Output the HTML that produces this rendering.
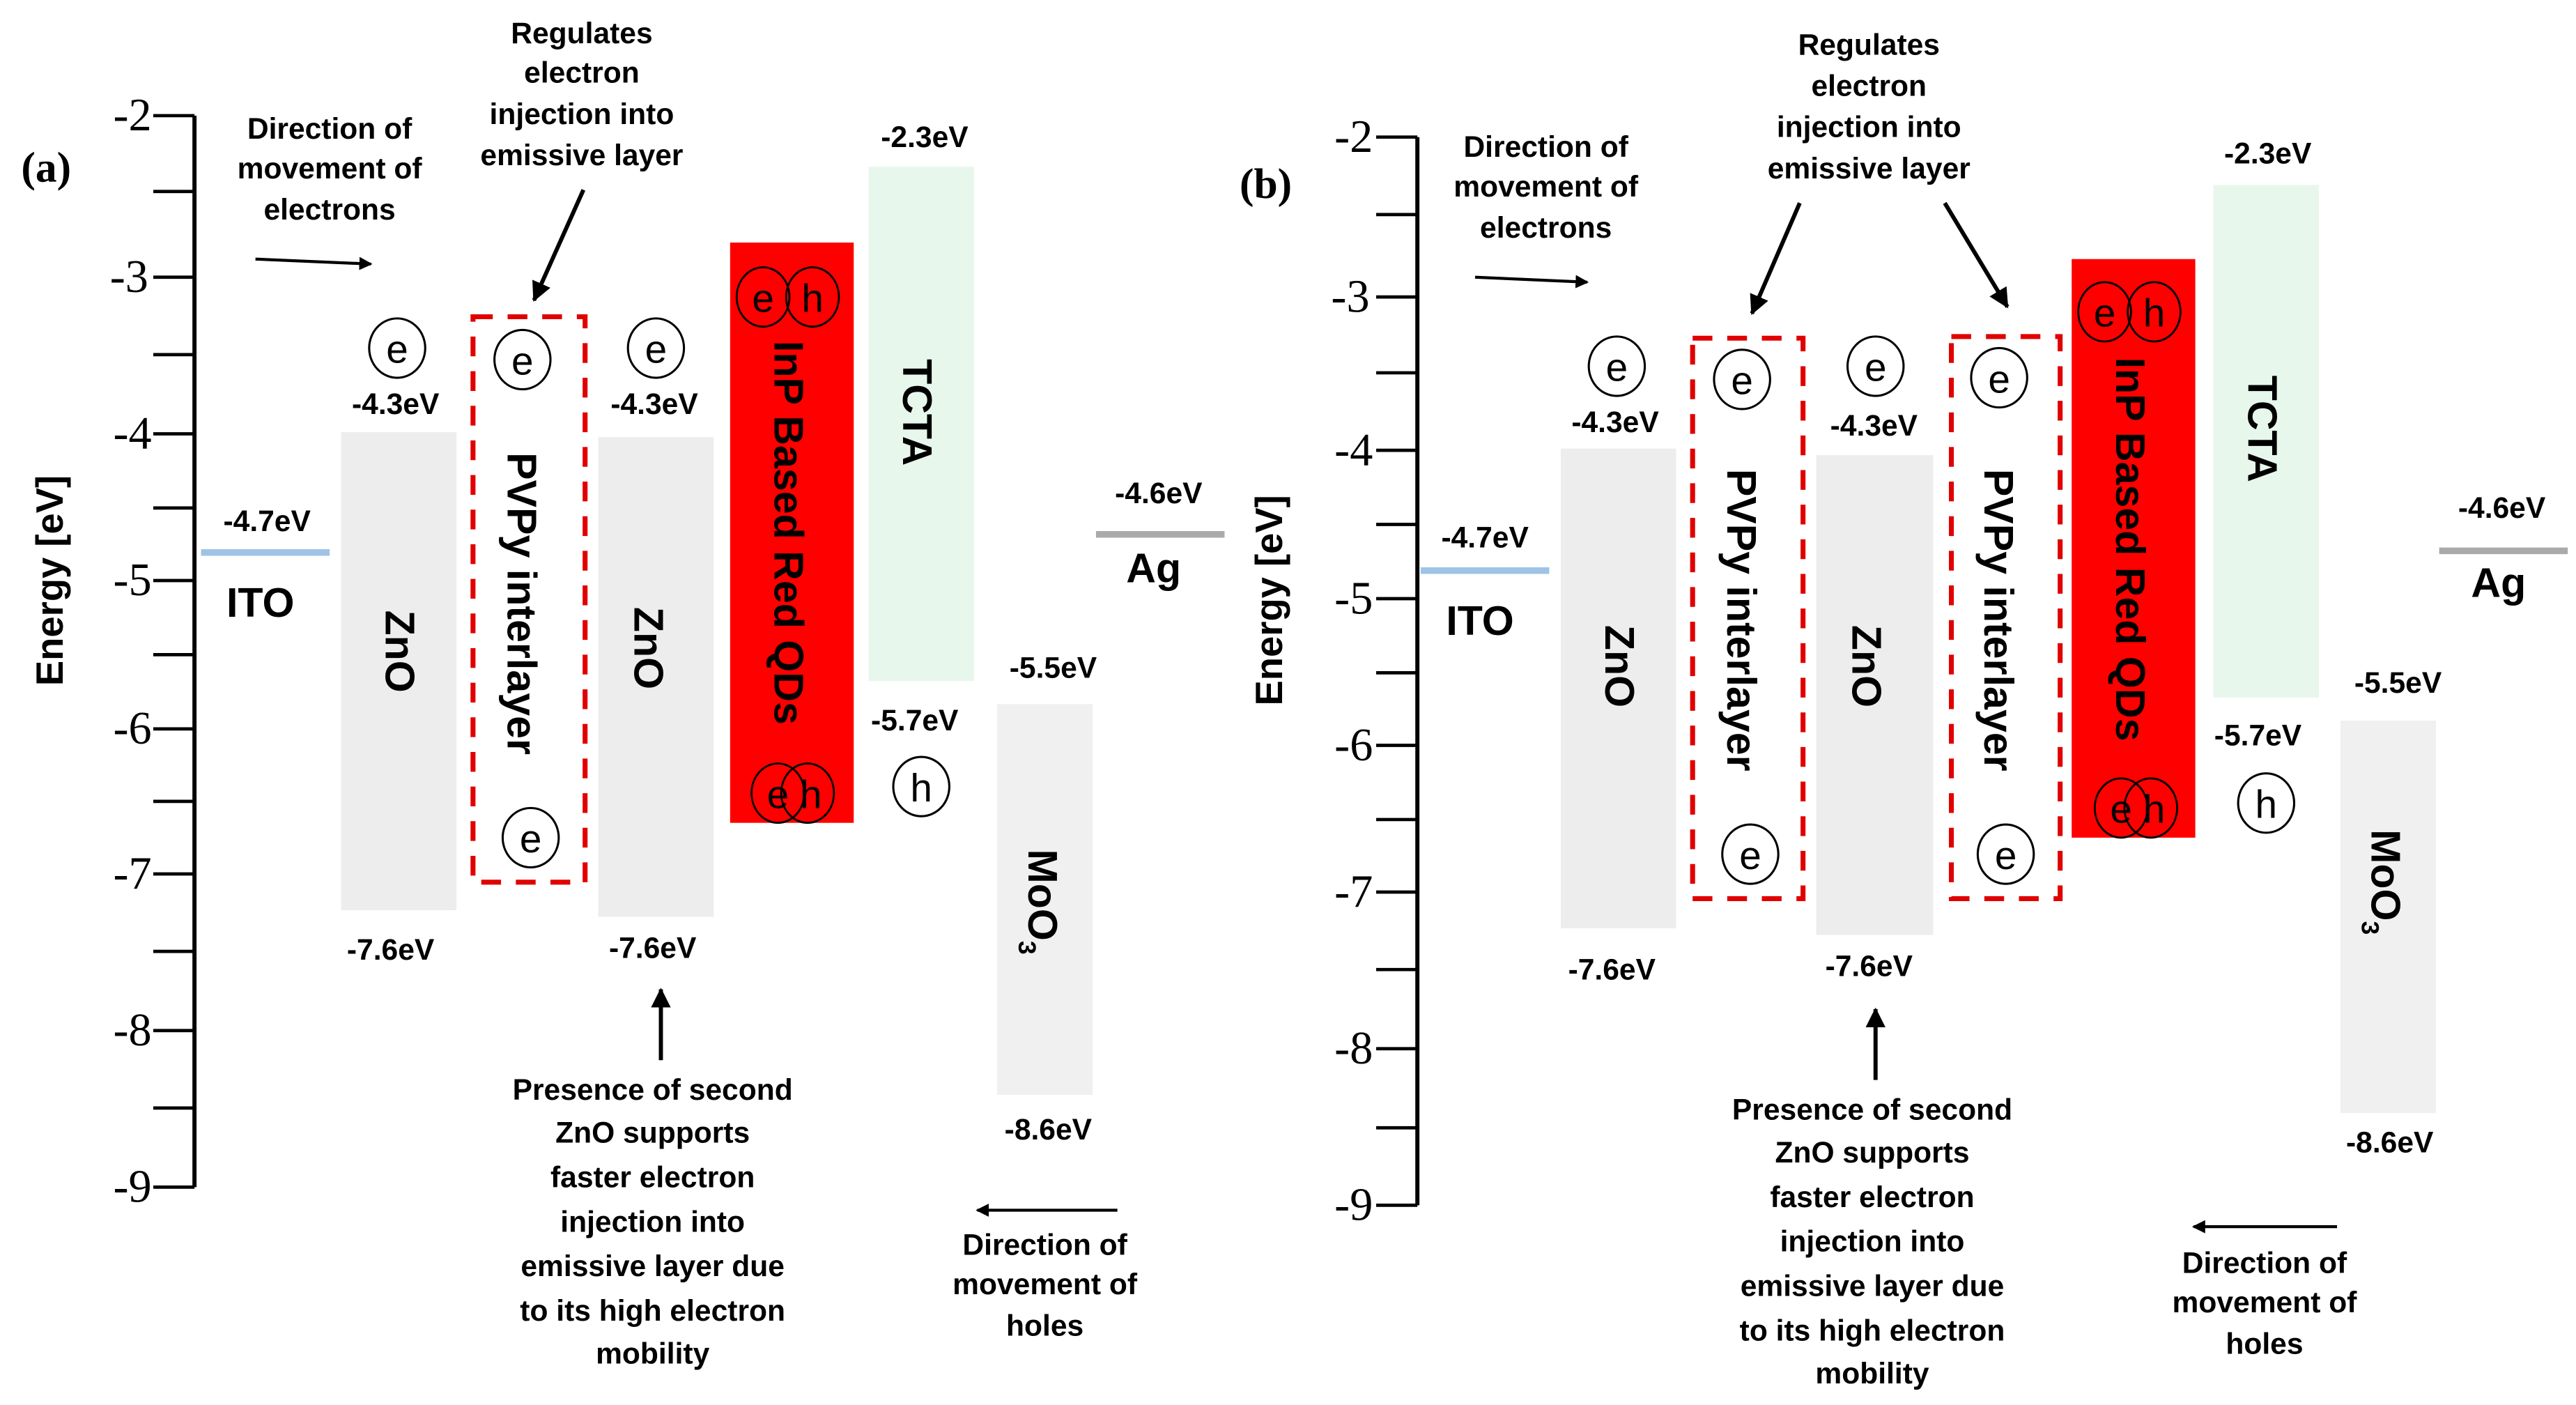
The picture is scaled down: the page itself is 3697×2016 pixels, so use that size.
<!DOCTYPE html>
<html><head><meta charset="utf-8"><style>
html,body{margin:0;padding:0;background:#fff}
svg{display:block}
.t{font-family:"Liberation Sans",sans-serif;font-weight:bold;font-size:18px;text-anchor:middle;fill:#000}
.n{font-family:"Liberation Serif",serif;font-size:28px;text-anchor:end;fill:#000}
.big{font-family:"Liberation Sans",sans-serif;font-weight:bold;font-size:25px;text-anchor:middle;fill:#000}
.lbl{font-family:"Liberation Sans",sans-serif;font-weight:bold;font-size:25px;text-anchor:middle;fill:#000}
.c{font-family:"Liberation Sans",sans-serif;font-size:24px;text-anchor:middle;fill:#000}
</style></head><body>
<svg width="3697" height="2016" viewBox="0 0 1563 852" xmlns="http://www.w3.org/2000/svg">
<defs>
<marker id="ar" markerWidth="8" markerHeight="8" refX="7" refY="4" orient="auto" markerUnits="userSpaceOnUse"><path d="M0,0 L8,4 L0,8 z" fill="#000"/></marker>
<marker id="ar2" markerWidth="12" markerHeight="12" refX="11" refY="6" orient="auto" markerUnits="userSpaceOnUse"><path d="M0,0 L12,6 L0,12 z" fill="#000"/></marker>
</defs>

<!-- ===== PANEL A ===== -->
<text x="28" y="110" style="font-family:'Liberation Serif',serif;font-weight:bold;font-size:26px;text-anchor:middle">(a)</text>
<text transform="translate(38,352) rotate(-90)" class="big" style="font-size:23px">Energy [eV]</text>
<line x1="118" y1="70" x2="118" y2="720" stroke="#000" stroke-width="2.5"/>
<g stroke="#000" stroke-width="2">
<line x1="93" y1="70" x2="118" y2="70"/><line x1="93" y1="116" x2="118" y2="116"/>
<line x1="93" y1="168" x2="118" y2="168"/><line x1="93" y1="215" x2="118" y2="215"/>
<line x1="93" y1="263" x2="118" y2="263"/><line x1="93" y1="308" x2="118" y2="308"/>
<line x1="93" y1="352" x2="118" y2="352"/><line x1="93" y1="397" x2="118" y2="397"/>
<line x1="93" y1="442" x2="118" y2="442"/><line x1="93" y1="486" x2="118" y2="486"/>
<line x1="93" y1="530" x2="118" y2="530"/><line x1="93" y1="577" x2="118" y2="577"/>
<line x1="93" y1="625" x2="118" y2="625"/><line x1="93" y1="672" x2="118" y2="672"/>
<line x1="93" y1="720" x2="118" y2="720"/>
</g>
<text class="n" x="92" y="79">-2</text><text class="n" x="90" y="177">-3</text>
<text class="n" x="92" y="272">-4</text><text class="n" x="92" y="361">-5</text>
<text class="n" x="92" y="451">-6</text><text class="n" x="92" y="539">-7</text>
<text class="n" x="92" y="634">-8</text><text class="n" x="92" y="729">-9</text>

<line x1="122" y1="335" x2="200" y2="335" stroke="#9dc3e6" stroke-width="4"/>
<text class="t" x="162" y="322">-4.7eV</text>
<text class="lbl" x="158" y="374">ITO</text>

<rect x="207" y="262" width="70" height="290" fill="#ededed"/>
<text class="big" transform="translate(234,395) rotate(90)">ZnO</text>
<ellipse cx="241" cy="211" rx="17" ry="18" fill="#fff" stroke="#000" stroke-width="1.3"/><text class="c" x="241" y="220">e</text>
<text class="t" x="240" y="251">-4.3eV</text><text class="t" x="237" y="582">-7.6eV</text>

<rect x="287" y="192" width="68" height="343" fill="none" stroke="#e00000" stroke-width="3" stroke-dasharray="12,9"/>
<text class="big" transform="translate(308,366) rotate(90)">PVPy interlayer</text>
<ellipse cx="317" cy="218" rx="17" ry="18" fill="#fff" stroke="#000" stroke-width="1.3"/><text class="c" x="317" y="227">e</text>
<ellipse cx="322" cy="508" rx="17" ry="18" fill="#fff" stroke="#000" stroke-width="1.3"/><text class="c" x="322" y="517">e</text>

<rect x="363" y="265" width="70" height="291" fill="#ededed"/>
<text class="big" transform="translate(385,393) rotate(90)">ZnO</text>
<ellipse cx="398" cy="211" rx="17" ry="18" fill="#fff" stroke="#000" stroke-width="1.3"/><text class="c" x="398" y="220">e</text>
<text class="t" x="397" y="251">-4.3eV</text><text class="t" x="396" y="581">-7.6eV</text>

<rect x="443" y="147" width="75" height="352" fill="#ff0000"/>
<text class="big" transform="translate(470,323) rotate(90)">InP Based Red QDs</text>
<ellipse cx="463" cy="180" rx="16" ry="18" fill="none" stroke="#000" stroke-width="1.2"/><ellipse cx="493" cy="180" rx="16" ry="18" fill="none" stroke="#000" stroke-width="1.2"/>
<text class="c" x="463" y="189">e</text><text class="c" x="493" y="189">h</text>
<ellipse cx="472" cy="481" rx="16" ry="18" fill="none" stroke="#000" stroke-width="1.2"/><ellipse cx="490" cy="481" rx="16" ry="18" fill="none" stroke="#000" stroke-width="1.2"/>
<text class="c" x="472" y="490">e</text><text class="c" x="492" y="490">h</text>

<rect x="527" y="101" width="64" height="312" fill="#e8f7ec"/>
<text class="big" transform="translate(548,250) rotate(90)">TCTA</text>
<text class="t" x="561" y="89">-2.3eV</text><text class="t" x="555" y="443">-5.7eV</text>
<ellipse cx="559" cy="477" rx="17" ry="18" fill="#fff" stroke="#000" stroke-width="1.3"/><text class="c" x="559" y="486">h</text>

<rect x="605" y="427" width="58" height="237" fill="#f0f0f0"/>
<text class="big" transform="translate(624,515) rotate(90)" style="text-anchor:start">MoO<tspan font-size="15" dy="6">3</tspan></text>
<text class="t" x="639" y="411">-5.5eV</text><text class="t" x="636" y="691">-8.6eV</text>

<line x1="665" y1="324" x2="743" y2="324" stroke="#aaaaaa" stroke-width="4"/>
<text class="t" x="703" y="305">-4.6eV</text><text class="lbl" x="700" y="353">Ag</text>

<text class="t" x="200" y="84">Direction of</text><text class="t" x="200" y="108">movement of</text><text class="t" x="200" y="133">electrons</text>
<line x1="155" y1="157" x2="225" y2="160" stroke="#000" stroke-width="1.8" marker-end="url(#ar)"/>
<text class="t" x="353" y="26">Regulates</text><text class="t" x="353" y="50">electron</text><text class="t" x="353" y="75">injection into</text><text class="t" x="353" y="100">emissive layer</text>
<line x1="354" y1="115" x2="324" y2="182" stroke="#000" stroke-width="2.5" marker-end="url(#ar2)"/>
<line x1="401" y1="643" x2="401" y2="600" stroke="#000" stroke-width="2.5" marker-end="url(#ar2)"/>
<text class="t" x="396" y="667">Presence of second</text><text class="t" x="396" y="693">ZnO supports</text><text class="t" x="396" y="720">faster electron</text><text class="t" x="396" y="747">injection into</text><text class="t" x="396" y="774">emissive layer due</text><text class="t" x="396" y="801">to its high electron</text><text class="t" x="396" y="827">mobility</text>
<line x1="678" y1="734" x2="593" y2="734" stroke="#000" stroke-width="1.8" marker-end="url(#ar)"/>
<text class="t" x="634" y="761">Direction of</text><text class="t" x="634" y="785">movement of</text><text class="t" x="634" y="810">holes</text>

<!-- ===== PANEL B ===== -->
<text x="768" y="120" style="font-family:'Liberation Serif',serif;font-weight:bold;font-size:26px;text-anchor:middle">(b)</text>
<text transform="translate(778,364) rotate(-90)" class="big" style="font-size:23px">Energy [eV]</text>
<line x1="860" y1="83" x2="860" y2="731" stroke="#000" stroke-width="2.5"/>
<g stroke="#000" stroke-width="2">
<line x1="835" y1="83" x2="860" y2="83"/><line x1="835" y1="130" x2="860" y2="130"/>
<line x1="835" y1="180" x2="860" y2="180"/><line x1="835" y1="226" x2="860" y2="226"/>
<line x1="835" y1="273" x2="860" y2="273"/><line x1="835" y1="318" x2="860" y2="318"/>
<line x1="835" y1="363" x2="860" y2="363"/><line x1="835" y1="408" x2="860" y2="408"/>
<line x1="835" y1="452" x2="860" y2="452"/><line x1="835" y1="497" x2="860" y2="497"/>
<line x1="835" y1="541" x2="860" y2="541"/><line x1="835" y1="588" x2="860" y2="588"/>
<line x1="835" y1="636" x2="860" y2="636"/><line x1="835" y1="684" x2="860" y2="684"/>
<line x1="835" y1="731" x2="860" y2="731"/>
</g>
<text class="n" x="833" y="92">-2</text><text class="n" x="831" y="189">-3</text>
<text class="n" x="833" y="282">-4</text><text class="n" x="833" y="372">-5</text>
<text class="n" x="833" y="461">-6</text><text class="n" x="833" y="550">-7</text>
<text class="n" x="833" y="645">-8</text><text class="n" x="833" y="740">-9</text>

<line x1="862" y1="346" x2="940" y2="346" stroke="#9dc3e6" stroke-width="4"/>
<text class="t" x="901" y="332">-4.7eV</text><text class="lbl" x="898" y="385">ITO</text>

<rect x="947" y="272" width="70" height="291" fill="#ededed"/>
<text class="big" transform="translate(974,404) rotate(90)">ZnO</text>
<ellipse cx="981" cy="222" rx="17" ry="18" fill="#fff" stroke="#000" stroke-width="1.3"/><text class="c" x="981" y="231">e</text>
<text class="t" x="980" y="262">-4.3eV</text><text class="t" x="978" y="594">-7.6eV</text>

<rect x="1027" y="205" width="67" height="340" fill="none" stroke="#e00000" stroke-width="3" stroke-dasharray="12,9"/>
<text class="big" transform="translate(1048,376) rotate(90)">PVPy interlayer</text>
<ellipse cx="1057" cy="230" rx="17" ry="18" fill="#fff" stroke="#000" stroke-width="1.3"/><text class="c" x="1057" y="239">e</text>
<ellipse cx="1062" cy="518" rx="17" ry="18" fill="#fff" stroke="#000" stroke-width="1.3"/><text class="c" x="1062" y="527">e</text>

<rect x="1102" y="276" width="71" height="291" fill="#ededed"/>
<text class="big" transform="translate(1124,404) rotate(90)">ZnO</text>
<ellipse cx="1138" cy="222" rx="17" ry="18" fill="#fff" stroke="#000" stroke-width="1.3"/><text class="c" x="1138" y="231">e</text>
<text class="t" x="1137" y="264">-4.3eV</text><text class="t" x="1134" y="592">-7.6eV</text>

<rect x="1184" y="204" width="66" height="341" fill="none" stroke="#e00000" stroke-width="3" stroke-dasharray="12,9"/>
<text class="big" transform="translate(1204,376) rotate(90)">PVPy interlayer</text>
<ellipse cx="1213" cy="229" rx="17" ry="18" fill="#fff" stroke="#000" stroke-width="1.3"/><text class="c" x="1213" y="238">e</text>
<ellipse cx="1217" cy="518" rx="17" ry="18" fill="#fff" stroke="#000" stroke-width="1.3"/><text class="c" x="1217" y="527">e</text>

<rect x="1257" y="157" width="75" height="351" fill="#ff0000"/>
<text class="big" transform="translate(1284,333) rotate(90)">InP Based Red QDs</text>
<ellipse cx="1277" cy="189" rx="16" ry="18" fill="none" stroke="#000" stroke-width="1.2"/><ellipse cx="1307" cy="189" rx="16" ry="18" fill="none" stroke="#000" stroke-width="1.2"/>
<text class="c" x="1277" y="198">e</text><text class="c" x="1307" y="198">h</text>
<ellipse cx="1287" cy="490" rx="16" ry="18" fill="none" stroke="#000" stroke-width="1.2"/><ellipse cx="1305" cy="490" rx="16" ry="18" fill="none" stroke="#000" stroke-width="1.2"/>
<text class="c" x="1287" y="499">e</text><text class="c" x="1307" y="499">h</text>

<rect x="1343" y="112" width="64" height="311" fill="#e8f7ec"/>
<text class="big" transform="translate(1364,260) rotate(90)">TCTA</text>
<text class="t" x="1376" y="99">-2.3eV</text><text class="t" x="1370" y="452">-5.7eV</text>
<ellipse cx="1375" cy="487" rx="17" ry="18" fill="#fff" stroke="#000" stroke-width="1.3"/><text class="c" x="1375" y="496">h</text>

<rect x="1420" y="437" width="58" height="238" fill="#f0f0f0"/>
<text class="big" transform="translate(1439,503) rotate(90)" style="text-anchor:start">MoO<tspan font-size="15" dy="6">3</tspan></text>
<text class="t" x="1455" y="420">-5.5eV</text><text class="t" x="1450" y="699">-8.6eV</text>

<line x1="1480" y1="334" x2="1558" y2="334" stroke="#aaaaaa" stroke-width="4"/>
<text class="t" x="1518" y="314">-4.6eV</text><text class="lbl" x="1516" y="362">Ag</text>

<text class="t" x="938" y="95">Direction of</text><text class="t" x="938" y="119">movement of</text><text class="t" x="938" y="144">electrons</text>
<line x1="895" y1="168" x2="963" y2="171" stroke="#000" stroke-width="1.8" marker-end="url(#ar)"/>
<text class="t" x="1134" y="33">Regulates</text><text class="t" x="1134" y="58">electron</text><text class="t" x="1134" y="83">injection into</text><text class="t" x="1134" y="108">emissive layer</text>
<line x1="1092" y1="123" x2="1063" y2="190" stroke="#000" stroke-width="2.5" marker-end="url(#ar2)"/>
<line x1="1180" y1="123" x2="1218" y2="186" stroke="#000" stroke-width="2.5" marker-end="url(#ar2)"/>
<line x1="1138" y1="655" x2="1138" y2="612" stroke="#000" stroke-width="2.5" marker-end="url(#ar2)"/>
<text class="t" x="1136" y="679">Presence of second</text><text class="t" x="1136" y="705">ZnO supports</text><text class="t" x="1136" y="732">faster electron</text><text class="t" x="1136" y="759">injection into</text><text class="t" x="1136" y="786">emissive layer due</text><text class="t" x="1136" y="813">to its high electron</text><text class="t" x="1136" y="839">mobility</text>
<line x1="1418" y1="744" x2="1331" y2="744" stroke="#000" stroke-width="1.8" marker-end="url(#ar)"/>
<text class="t" x="1374" y="772">Direction of</text><text class="t" x="1374" y="796">movement of</text><text class="t" x="1374" y="821">holes</text>
</svg>
</body></html>
